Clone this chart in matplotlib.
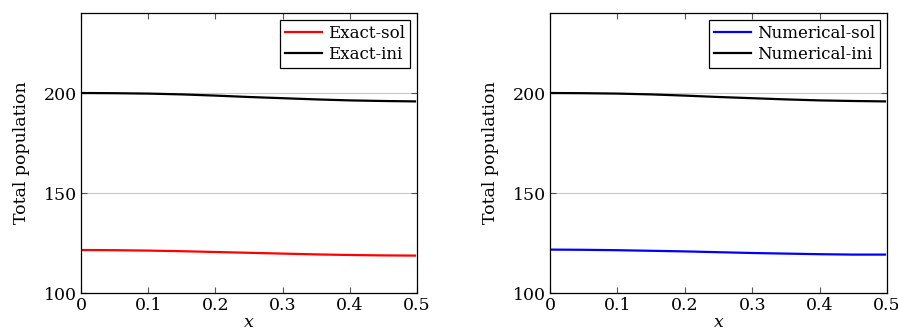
import matplotlib
matplotlib.use("Agg")
import matplotlib.pyplot as plt

plt.rcParams['font.family'] = ['DejaVu Serif']
plt.rcParams['mathtext.fontset'] = 'dejavuserif'

# Data
x = [0.0, 0.05, 0.1, 0.15, 0.2, 0.25, 0.3, 0.35, 0.4, 0.45, 0.497]
exact_sol = [121.5, 121.4, 121.2, 120.9, 120.5, 120.1, 119.7, 119.3, 119.0, 118.8, 118.7]
exact_ini = [200.0, 199.9, 199.7, 199.3, 198.7, 198.0, 197.4, 196.8, 196.3, 196.0, 195.8]
num_sol = [121.7, 121.6, 121.4, 121.1, 120.8, 120.4, 120.0, 119.7, 119.4, 119.2, 119.2]
num_ini = [200.0, 199.9, 199.7, 199.3, 198.7, 198.0, 197.4, 196.8, 196.3, 196.0, 195.8]

xticks = [0, 0.1, 0.2, 0.3, 0.4, 0.5]
xticklabels = ["0", "0.1", "0.2", "0.3", "0.4", "0.5"]
yticks = [100, 150, 200]

fig = plt.figure(figsize=(8.98, 3.34), dpi=100)
ax1 = fig.add_axes([81 / 898, 1 - 293 / 334, 336 / 898, 280 / 334])
ax2 = fig.add_axes([550 / 898, 1 - 293 / 334, 337 / 898, 280 / 334])

panels = [
    (ax1, exact_sol, exact_ini, "red", "Exact-sol", "Exact-ini"),
    (ax2, num_sol, num_ini, "blue", "Numerical-sol", "Numerical-ini"),
]

for ax, sol, ini, col, lab_sol, lab_ini in panels:
    ax.plot(x, sol, color=col, lw=1.6, label=lab_sol)
    ax.plot(x, ini, color="black", lw=1.6, label=lab_ini)
    ax.set_xlim(0, 0.5)
    ax.set_ylim(100, 240)
    ax.set_xticks(xticks)
    ax.set_xticklabels(xticklabels)
    ax.set_yticks(yticks)
    ax.yaxis.grid(True, color="#c8c8c8", lw=0.8)
    ax.set_axisbelow(True)
    ax.tick_params(direction="in", top=True, right=True, length=4,
                   color="#555555", labelsize=12.5, pad=3)
    for s in ax.spines.values():
        s.set_linewidth(0.9)
    ax.set_xlabel("$x$", fontsize=12.5, labelpad=0)
    ax.set_ylabel("Total population", fontsize=12.5, labelpad=10)
    leg = ax.legend(loc="upper right", fontsize=12, fancybox=False,
                    framealpha=1, edgecolor="black", handlelength=2.2,
                    borderpad=0.3, labelspacing=0.25, borderaxespad=0.4,
                    handletextpad=0.4)
    leg.get_frame().set_linewidth(0.9)

fig.savefig("out.png", dpi=100)
